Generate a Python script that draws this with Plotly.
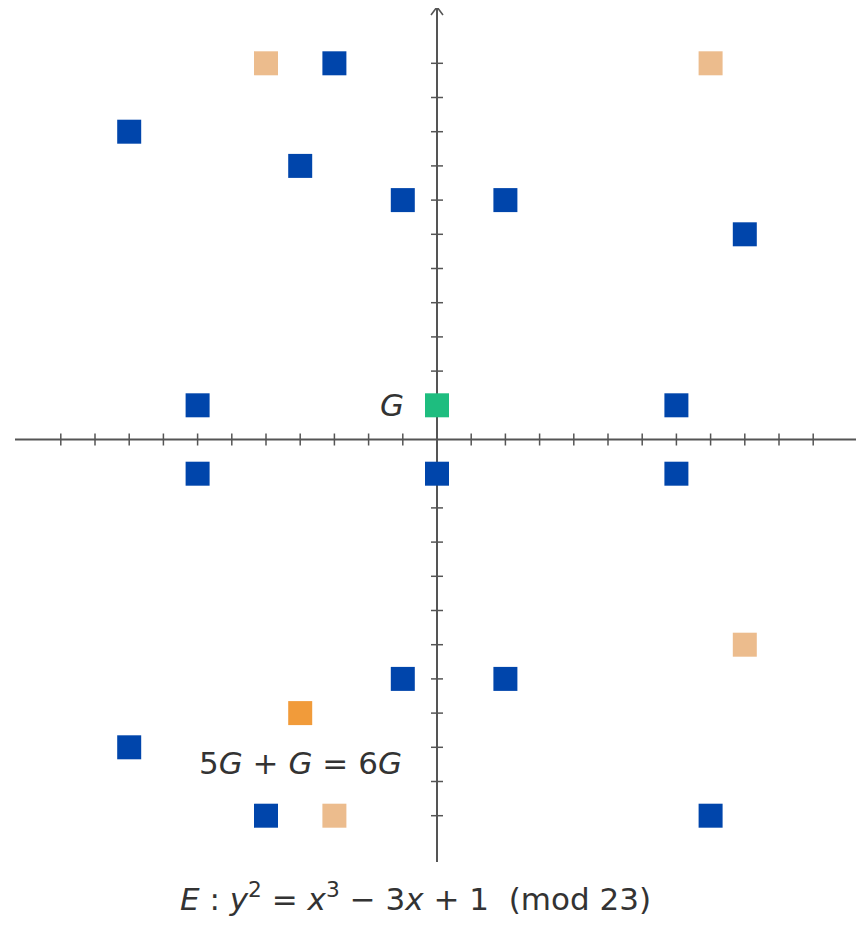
import plotly.graph_objects as go

# Points on E: y^2 = x^3 - 3x + 1 (mod 23), centred representatives
blue_x = [-3, -9, -4, -1, 2, 9, -7, 7, -7, 0, 7, -1, 2, -9, -5, 8]
blue_y = [11, 9, 8, 7, 7, 6, 1, 1, -1, -1, -1, -7, -7, -9, -11, -11]
peach_x = [-5, 8, 9, -3]
peach_y = [11, 11, -6, -11]
orange_x = [-4]
orange_y = [-8]
green_x = [0]
green_y = [1]

x_ticks = [v for v in range(-11, 12) if v != 0]
y_ticks = [v for v in range(-11, 12) if v != 0]

OFF = 8  # page body margin
UNIT = 34.2
X0, Y0 = 437 - OFF, 439.5 - OFF
W, H = 864, 929
x_range = [-X0 / UNIT, (W - X0) / UNIT]
y_range = [(Y0 - H) / UNIT, Y0 / UNIT]

axis_col = "#555555"
tick_half = 6 / UNIT

fig = go.Figure()

# axes
fig.add_trace(go.Scatter(x=[(15 - OFF - X0) / UNIT, x_range[1] + 1], y=[0, 0], mode="lines",
                         line=dict(color=axis_col, width=2), hoverinfo="skip", showlegend=False))
y_top = (Y0 - (7 - OFF)) / UNIT
fig.add_trace(go.Scatter(x=[0, 0], y=[(Y0 - (862 - OFF)) / UNIT, y_top], mode="lines",
                         line=dict(color=axis_col, width=2), hoverinfo="skip", showlegend=False))
# arrow head
ah = 8 / UNIT
fig.add_trace(go.Scatter(x=[-ah * 0.75, 0, ah * 0.75], y=[y_top - ah, y_top, y_top - ah], mode="lines",
                         line=dict(color=axis_col, width=1.6), hoverinfo="skip", showlegend=False))

# ticks
tx, ty = [], []
for v in x_ticks:
    tx += [v, v, None]
    ty += [-tick_half, tick_half, None]
for v in y_ticks:
    tx += [-tick_half, tick_half, None]
    ty += [v, v, None]
fig.add_trace(go.Scatter(x=tx, y=ty, mode="lines", line=dict(color=axis_col, width=1.5),
                         hoverinfo="skip", showlegend=False))

def pts(xs, ys, col):
    fig.add_trace(go.Scatter(x=xs, y=ys, mode="markers",
                             marker=dict(symbol="square", size=24, color=col, line=dict(width=0)),
                             showlegend=False))

pts(blue_x, blue_y, "#0045AB")
pts(peach_x, peach_y, "#ECBC8D")
pts(orange_x, orange_y, "#F19B3A")
pts(green_x, green_y, "#1EBD7F")

font = dict(family="DejaVu Sans", size=31, color="#333333")
nb = "\u00a0"
fig.add_annotation(x=green_x[0], y=green_y[0], text="<i>G</i>", showarrow=False,
                   xanchor="right", yanchor="middle", xshift=-31, font=font)
fig.add_annotation(x=orange_x[0], y=orange_y[0], text=f"5<i>G</i>{nb}+{nb}<i>G</i>{nb}={nb}6<i>G</i>",
                   showarrow=False, xanchor="center", yanchor="middle", yshift=-50, font=font)
title = (f"<i>E</i>{nb}:{nb}<i>y</i><sup>2</sup>{nb}={nb}<i>x</i><sup>3</sup>{nb}−{nb}3<i>x</i>{nb}+{nb}1"
         f"{nb}{nb}(mod{nb}23)")
fig.add_annotation(xref="paper", yref="paper", x=(415 - OFF) / W, y=1 - (897 - OFF) / H, text=title,
                   showarrow=False, xanchor="center", yanchor="middle", font=font)

fig.update_layout(
    width=W, height=H, margin=dict(l=0, r=0, t=0, b=0),
    paper_bgcolor="white", plot_bgcolor="white",
    xaxis=dict(range=x_range, visible=False, fixedrange=True),
    yaxis=dict(range=y_range, visible=False, fixedrange=True),
)

fig.write_html("out.html")
